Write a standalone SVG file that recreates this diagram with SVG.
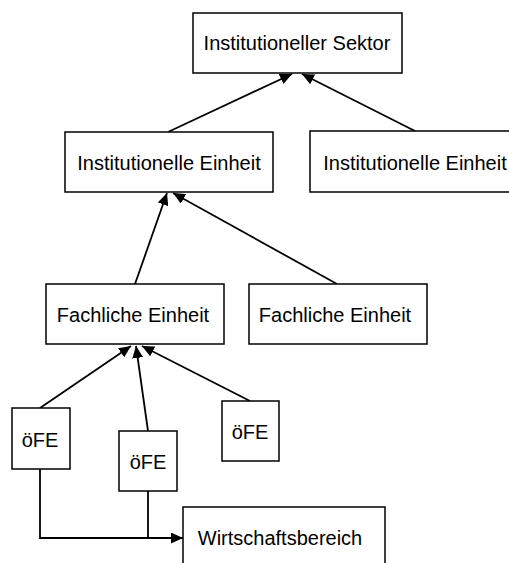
<svg xmlns="http://www.w3.org/2000/svg" width="509" height="563" viewBox="0 0 509 563">
<defs>
<style>
.box{fill:#fff;stroke:#000;stroke-width:1.5}
.lbl{font-family:"Liberation Sans",Arial,sans-serif;font-size:20px;fill:#000;text-anchor:middle}
.con{fill:none;stroke:#000;stroke-width:1.8}
</style>
<marker id="arr" markerUnits="userSpaceOnUse" markerWidth="13" markerHeight="11" refX="12" refY="5.5" orient="auto">
<path d="M0,0 L12,5.5 L0,11 Z" fill="#000"/>
</marker>
</defs>
<rect width="509" height="563" fill="#fff"/>
<g id="connectors">
<line class="con" x1="168" y1="132" x2="292" y2="74" marker-end="url(#arr)"/>
<line class="con" x1="415" y1="131" x2="302" y2="74" marker-end="url(#arr)"/>
<line class="con" x1="135" y1="284" x2="167" y2="193" marker-end="url(#arr)"/>
<line class="con" x1="337" y1="284" x2="173" y2="193" marker-end="url(#arr)"/>
<line class="con" x1="40" y1="408" x2="131" y2="346" marker-end="url(#arr)"/>
<line class="con" x1="148" y1="431" x2="136" y2="346" marker-end="url(#arr)"/>
<line class="con" x1="250" y1="401" x2="142" y2="346" marker-end="url(#arr)"/>
<polyline class="con" points="40,469 40,538 183,538" marker-end="url(#arr)"/>
<line class="con" x1="148" y1="491" x2="148" y2="538"/>
</g>
<g id="sektor">
<rect class="box" x="193" y="13" width="209" height="60"/>
<text class="lbl" x="297" y="50">Institutioneller Sektor</text>
</g>
<g id="inst1">
<rect class="box" x="65" y="132" width="208" height="60"/>
<text class="lbl" x="169" y="170">Institutionelle Einheit</text>
</g>
<g id="inst2">
<rect class="box" x="310" y="131" width="210" height="61"/>
<text class="lbl" x="415" y="170">Institutionelle Einheit</text>
</g>
<g id="fach1">
<rect class="box" x="46" y="284" width="178" height="60"/>
<text class="lbl" x="133" y="322">Fachliche Einheit</text>
</g>
<g id="fach2">
<rect class="box" x="249" y="284" width="178" height="60"/>
<text class="lbl" x="335" y="322">Fachliche Einheit</text>
</g>
<g id="ofe1">
<rect class="box" x="12" y="408" width="58" height="61"/>
<text class="lbl" x="40" y="447">öFE</text>
</g>
<g id="ofe2">
<rect class="box" x="119" y="431" width="58" height="60"/>
<text class="lbl" x="148" y="469">öFE</text>
</g>
<g id="ofe3">
<rect class="box" x="222" y="401" width="57" height="60"/>
<text class="lbl" x="250" y="439">öFE</text>
</g>
<g id="wirtschaftsbereich">
<rect class="box" x="183" y="507" width="202" height="62"/>
<text class="lbl" x="280" y="545">Wirtschaftsbereich</text>
</g>
</svg>
